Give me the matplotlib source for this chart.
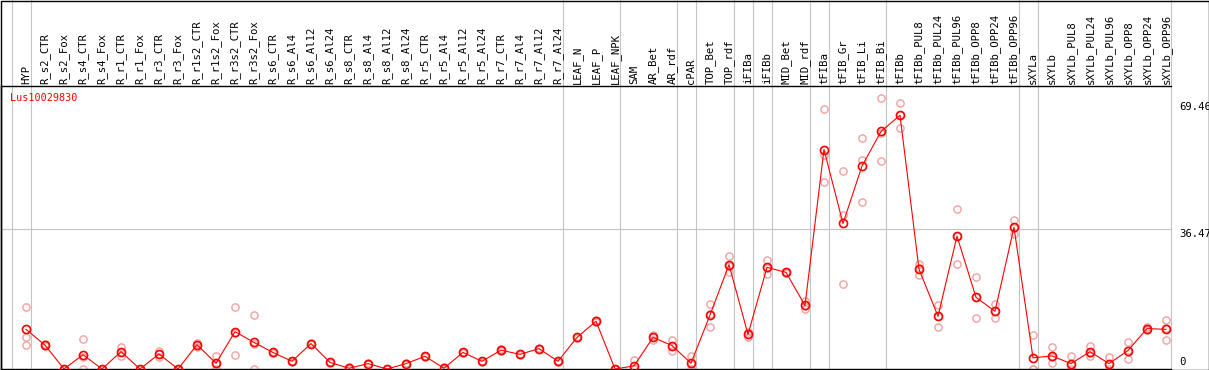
import matplotlib
matplotlib.use('Agg')
import matplotlib.pyplot as plt
import matplotlib.transforms as mtransforms
from matplotlib.lines import Line2D
from matplotlib.patches import Rectangle
import numpy as np

gene = 'Lus10029830'

samples = ['HYP',
           'R_s2_CTR', 'R_s2_Fox', 'R_s4_CTR', 'R_s4_Fox', 'R_r1_CTR', 'R_r1_Fox',
           'R_r3_CTR', 'R_r3_Fox', 'R_r1s2_CTR', 'R_r1s2_Fox', 'R_r3s2_CTR', 'R_r3s2_Fox',
           'R_s6_CTR', 'R_s6_Al4', 'R_s6_Al12', 'R_s6_Al24', 'R_s8_CTR', 'R_s8_Al4',
           'R_s8_Al12', 'R_s8_Al24', 'R_r5_CTR', 'R_r5_Al4', 'R_r5_Al12', 'R_r5_Al24',
           'R_r7_CTR', 'R_r7_Al4', 'R_r7_Al12', 'R_r7_Al24',
           'LEAF_N', 'LEAF_P', 'LEAF_NPK',
           'SAM', 'AR_Bet', 'AR_rdf',
           'cPAR',
           'TOP_Bet', 'TOP_rdf',
           'iFIBa', 'iFIBb',
           'MID_Bet', 'MID_rdf',
           'tFIBa', 'tFIB_Gr', 'tFIB_Li', 'tFIB_Bi',
           'tFIBb', 'tFIBb_PUL8', 'tFIBb_PUL24', 'tFIBb_PUL96', 'tFIBb_OPP8',
           'tFIBb_OPP24', 'tFIBb_OPP96',
           'sXYLa',
           'sXYLb', 'sXYLb_PUL8', 'sXYLb_PUL24', 'sXYLb_PUL96', 'sXYLb_OPP8',
           'sXYLb_OPP24', 'sXYLb_OPP96']

# number of samples in each block between the grey separators
group_sizes = [1, 28, 3, 3, 1, 2, 1, 1, 2, 1, 3, 7, 1, 7]

mean_vals = [10.3,
             6.2, 0, 3.7, 0, 4.5, 0, 3.9, 0, 6.3, 1.5, 9.7, 6.9,
             4.3, 2.0, 6.6, 1.7, 0.2, 1.4, 0, 1.4, 3.3, 0.2, 4.3, 2.0,
             4.9, 3.8, 5.3, 2.0,
             8.2, 12.4, 0,
             0.8, 8.2, 6.1,
             1.5,
             14.0, 27.1,
             9.0, 26.4,
             25.1, 16.5,
             57.0, 37.8, 52.7, 61.7,
             65.9, 25.9, 13.7, 34.5, 18.6, 15.0, 36.8,
             2.9,
             3.4, 1.4, 4.5, 1.4, 4.8, 10.5, 10.3]

rep_hi = [16.0,
          6.4, 0, 7.9, 0, 5.7, 0, 4.7, 0, 6.8, 3.3, 16.0, 14.1,
          4.5, 2.2, 6.8, 1.9, 0.4, 1.6, 0, 1.6, 3.5, 0.4, 4.5, 2.2,
          5.1, 4.0, 5.5, 2.2,
          8.4, 12.6, 0,
          2.3, 8.9, 7.6,
          3.3,
          16.8, 29.3,
          9.6, 28.3,
          25.3, 17.6,
          67.4, 51.3, 59.9, 70.3,
          69.2, 27.2, 16.5, 41.5, 24.0, 16.8, 38.8,
          8.9,
          5.6, 3.3, 6.0, 3.0, 6.9, 10.8, 12.7]

rep_mid = [8.2,
           6.2, 0, 3.2, 0, 4.5, 0, 3.9, 0, 6.3, 1.2, 9.4, 6.6,
           4.3, 2.0, 6.6, 1.7, 0.2, 1.4, 0, 1.4, 3.3, 0.2, 4.3, 2.0,
           4.9, 3.8, 5.3, 2.0,
           8.2, 12.4, 0,
           0.2, 8.2, 6.1,
           1.2,
           14.3, 26.7,
           9.0, 26.2,
           25.1, 16.3,
           55.5, 40.1, 54.3, 61.2,
           66.0, 26.3, 13.8, 34.6, 18.6, 15.0, 36.6,
           0,
           3.0, 1.0, 4.2, 1.2, 4.9, 10.5, 10.6]

rep_lo = [6.3,
          6.0, 0, 0, 0, 3.3, 0, 3.1, 0, 5.8, 0, 3.7, 0,
          4.1, 1.8, 6.4, 1.5, 0, 1.2, 0, 1.2, 3.1, 0, 4.1, 1.8,
          4.7, 3.6, 5.1, 1.8,
          8.0, 12.2, 0,
          0, 7.5, 4.7,
          0,
          10.9, 25.3,
          8.3, 24.7,
          24.9, 15.6,
          48.5, 22.2, 43.5, 53.9,
          62.5, 24.3, 10.8, 27.4, 13.2, 13.3, 35.0,
          0,
          1.6, 0, 3.3, 0, 2.6, 10.2, 7.6]

y_ticks = [0, 36.47, 69.46]
y_labels = ['0', '36.47', '69.46']

W, H = 1209, 370
fig = plt.figure(figsize=(W / 100, H / 100), dpi=100)
ax = fig.add_axes([1 / W, 1 / H, 1170 / W, 283 / H])
ax.set_xlim((1 - 26) / 19, (1171 - 26) / 19)
ax.set_ylim(0, 73.5)
ax.set_xticks([])
ax.set_yticks([])
for side in ['left', 'bottom', 'top']:
    ax.spines[side].set_color('black')
    ax.spines[side].set_linewidth(1.0)
ax.spines['right'].set_visible(False)

grey = '#c4c4c4'
ax.axhline(y_ticks[1], color=grey, lw=0.8, zorder=1)

# separators run through the header as well
trans = mtransforms.blended_transform_factory(ax.transData, fig.transFigure)
edges = np.concatenate([[-1], np.cumsum(group_sizes) - 1]) + 0.24
for e in edges:
    ax.add_line(Line2D([e, e], [0, 1], transform=trans, color=grey, lw=0.8,
                       clip_on=False, zorder=1))

x = np.arange(len(samples))
for reps in (rep_hi, rep_mid, rep_lo):
    ax.plot(x, reps, 'o', ms=5.2, mfc='none', mec='#f2a0a0', mew=1.0, zorder=2)
ax.plot(x, mean_vals, '-', color='red', lw=0.8, zorder=3)
ax.plot(x, mean_vals, 'o', ms=5.8, mfc='none', mec='red', mew=1.2, zorder=4)

mono = 'DejaVu Sans Mono'
for i, s in enumerate(samples):
    ax.text(i, 1.007, s, transform=ax.get_xaxis_transform(), rotation=90,
            ha='center', va='bottom', fontsize=7.7, family=mono, clip_on=False)

ytr = ax.get_yaxis_transform()
for v, lab in zip(y_ticks, y_labels):
    if v == 0:
        ax.text(1.0068, v + 0.6, lab, transform=ytr, ha='left', va='bottom',
                fontsize=7.7, family=mono, clip_on=False)
    else:
        ax.text(1.0068, v, lab, transform=ytr, ha='left', va='top',
                fontsize=7.7, family=mono, clip_on=False)

ax.text(0.0073, 0.975, gene, transform=ax.transAxes, color='red', ha='left',
        va='top', fontsize=7.3, family=mono)

fig.add_artist(Rectangle((0.5 / W, 0.5 / H), 1208 / W, 369 / H,
                         transform=fig.transFigure, fill=False, ec='black', lw=1.0))

fig.savefig('out.png', dpi=100)
